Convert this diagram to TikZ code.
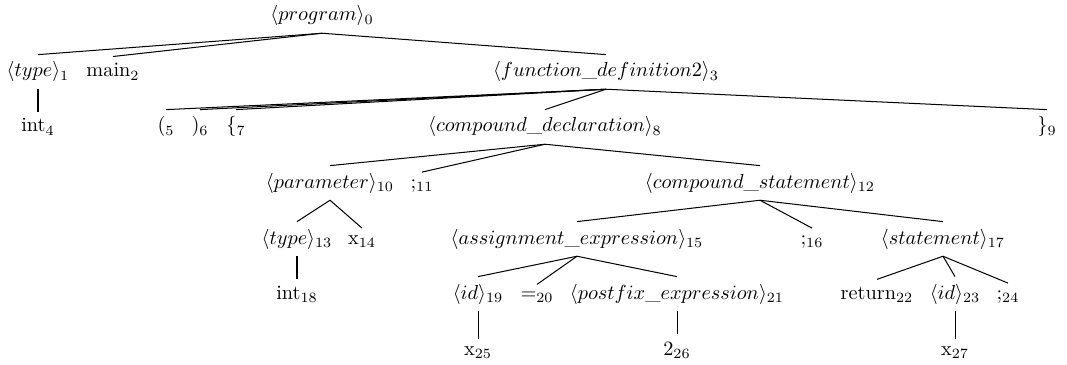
\documentclass[tikz,border=0pt]{standalone}
\usepackage{amsmath}
\usepackage{tikz}
\begin{document}
\begin{tikzpicture}[x=0.493pt,y=-0.493pt,
        nt/.style={anchor=base,inner sep=0.3333em},
        br/.style={line width=0.5pt}]
      \useasboundingbox (0,0) rectangle (1067,365);
      \node[nt] (n0) at (322,21) {$\langle program\rangle_0$};
      \node[nt] (n1) at (38,77) {$\langle type\rangle_1$};
      \node[nt] (n2) at (113,77) {main$_2$};
      \node[nt] (n3) at (606,77) {$\langle function\_definition2\rangle_3$};
      \node[nt] (n4) at (38,132) {int$_4$};
      \node[nt] (n5) at (166,132) {($_5$};
      \node[nt] (n6) at (200,132) {)$_6$};
      \node[nt] (n7) at (236,132) {\{$_7$};
      \node[nt] (n8) at (545,132) {$\langle compound\_declaration\rangle_8$};
      \node[nt] (n9) at (1047,132) {\}$_9$};
      \node[nt] (n10) at (330,188) {$\langle parameter\rangle_{10}$};
      \node[nt] (n11) at (422,188) {;$_{11}$};
      \node[nt] (n12) at (760,188) {$\langle compound\_statement\rangle_{12}$};
      \node[nt] (n13) at (297,244) {$\langle type\rangle_{13}$};
      \node[nt] (n14) at (362,244) {x$_{14}$};
      \node[nt] (n15) at (577,244) {$\langle assignment\_expression\rangle_{15}$};
      \node[nt] (n16) at (812,244) {;$_{16}$};
      \node[nt] (n17) at (943,244) {$\langle statement\rangle_{17}$};
      \node[nt] (n18) at (297,299) {int$_{18}$};
      \node[nt] (n19) at (478,299) {$\langle id\rangle_{19}$};
      \node[nt] (n20) at (537,299) {=$_{20}$};
      \node[nt] (n21) at (677,299) {$\langle postfix\_expression\rangle_{21}$};
      \node[nt] (n22) at (877,299) {return$_{22}$};
      \node[nt] (n23) at (955,299) {$\langle id\rangle_{23}$};
      \node[nt] (n24) at (1008,299) {;$_{24}$};
      \node[nt] (n25) at (478,355) {x$_{25}$};
      \node[nt] (n26) at (677,355) {2$_{26}$};
      \node[nt] (n27) at (955,355) {x$_{27}$};
      \draw[br] (n0.south)--(n1.north); \draw[br] (n0.south)--(n2.north); \draw[br] (n0.south)--(n3.north);
      \draw[br] (n1.south)--(n4.north);
      \draw[br] (n3.south)--(n5.north); \draw[br] (n3.south)--(n6.north); \draw[br] (n3.south)--(n7.north);
      \draw[br] (n3.south)--(n8.north); \draw[br] (n3.south)--(n9.north);
      \draw[br] (n8.south)--(n10.north); \draw[br] (n8.south)--(n11.north); \draw[br] (n8.south)--(n12.north);
      \draw[br] (n10.south)--(n13.north); \draw[br] (n10.south)--(n14.north);
      \draw[br] (n12.south)--(n15.north); \draw[br] (n12.south)--(n16.north); \draw[br] (n12.south)--(n17.north);
      \draw[br] (n13.south)--(n18.north);
      \draw[br] (n15.south)--(n19.north); \draw[br] (n15.south)--(n20.north); \draw[br] (n15.south)--(n21.north);
      \draw[br] (n17.south)--(n22.north); \draw[br] (n17.south)--(n23.north); \draw[br] (n17.south)--(n24.north);
      \draw[br] (n19.south)--(n25.north);
      \draw[br] (n21.south)--(n26.north);
      \draw[br] (n23.south)--(n27.north);
    \end{tikzpicture}
\end{document}
